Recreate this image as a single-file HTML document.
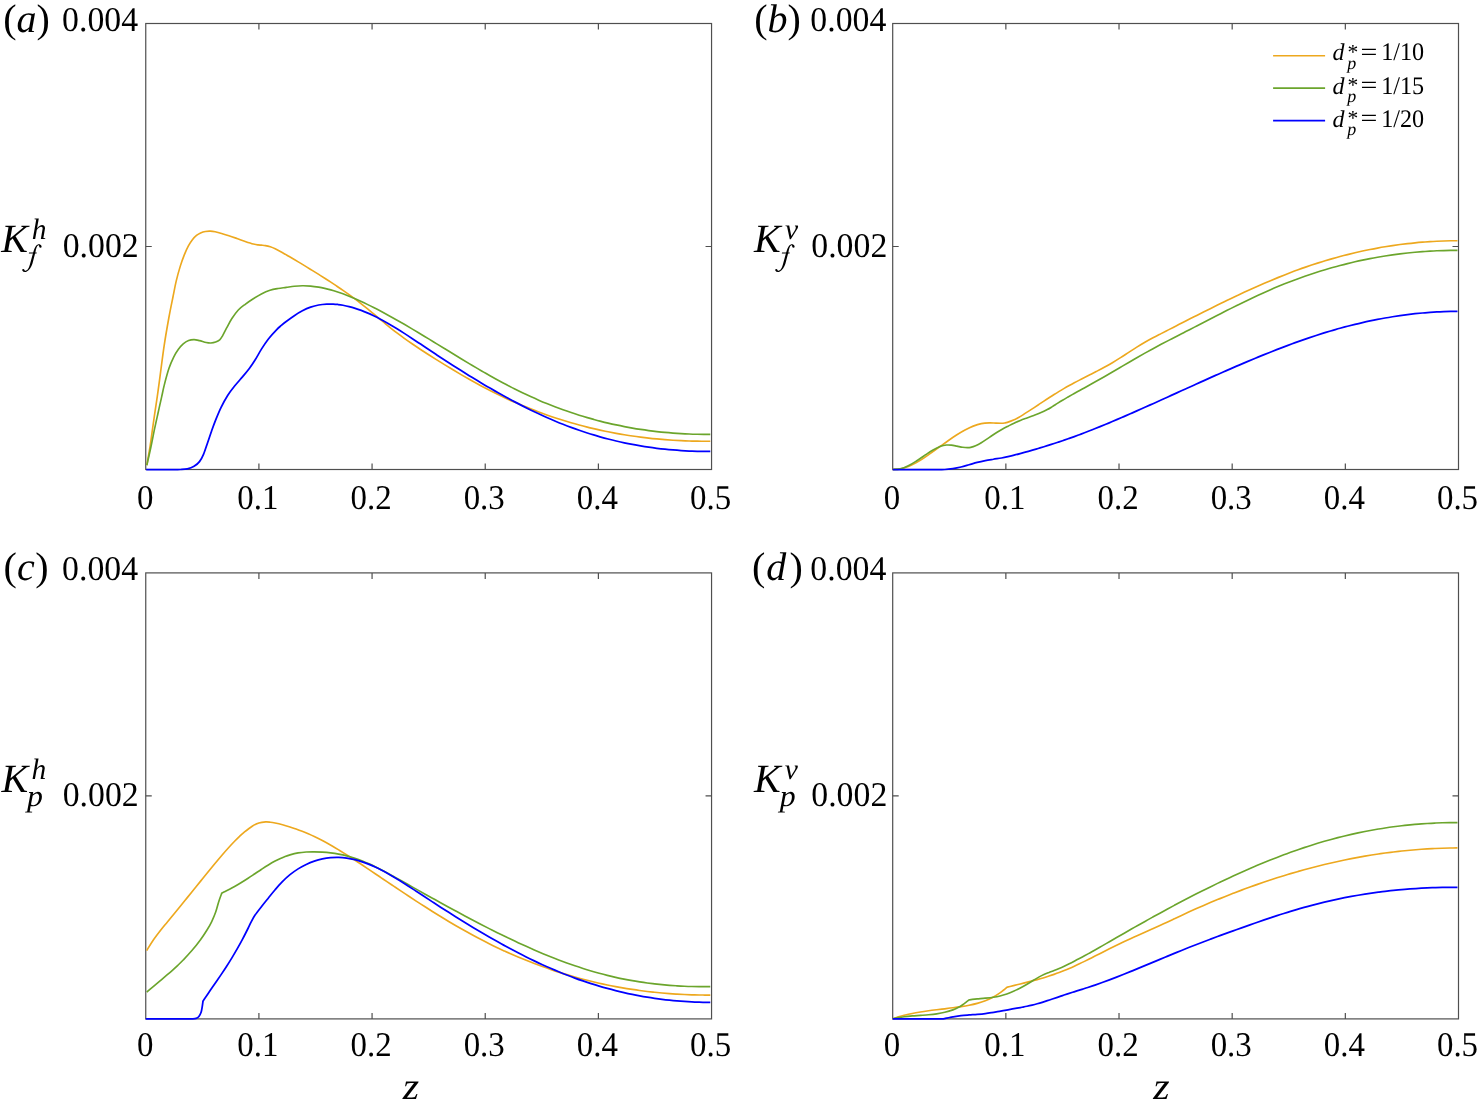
<!DOCTYPE html>
<html lang="en">
<head>
<meta charset="utf-8">
<title>Figure: K profiles versus z</title>
<style>
html,body{margin:0;padding:0;background:#fff;}
body{width:1480px;height:1111px;overflow:hidden;font-family:"Liberation Serif",serif;}
svg{display:block;will-change:transform;}
svg text{font-family:"Liberation Serif",serif;fill:#000;text-rendering:geometricPrecision;}
</style>
</head>
<body>
<svg width="1480" height="1111" viewBox="0 0 1480 1111">
<rect x="0" y="0" width="1480" height="1111" fill="#ffffff"/>

<g id="axes">
<rect x="145.75" y="23.5" width="565.8" height="446" fill="none" stroke="#4f4f4f" stroke-width="1.2"/>
<path d="M258.91 469.5v-6.0M258.91 23.5v6.0M372.07 469.5v-6.0M372.07 23.5v6.0M485.23 469.5v-6.0M485.23 23.5v6.0M598.39 469.5v-6.0M598.39 23.5v6.0M145.75 246.5h6.0M711.55 246.5h-6.0" fill="none" stroke="#4f4f4f" stroke-width="1.2"/>
<rect x="892.7" y="23.5" width="565.8" height="446" fill="none" stroke="#4f4f4f" stroke-width="1.2"/>
<path d="M1005.86 469.5v-6.0M1005.86 23.5v6.0M1119.02 469.5v-6.0M1119.02 23.5v6.0M1232.18 469.5v-6.0M1232.18 23.5v6.0M1345.34 469.5v-6.0M1345.34 23.5v6.0M892.7 246.5h6.0M1458.5 246.5h-6.0" fill="none" stroke="#4f4f4f" stroke-width="1.2"/>
<rect x="145.75" y="572.9" width="565.8" height="446" fill="none" stroke="#4f4f4f" stroke-width="1.2"/>
<path d="M258.91 1018.9v-6.0M258.91 572.9v6.0M372.07 1018.9v-6.0M372.07 572.9v6.0M485.23 1018.9v-6.0M485.23 572.9v6.0M598.39 1018.9v-6.0M598.39 572.9v6.0M145.75 795.9h6.0M711.55 795.9h-6.0" fill="none" stroke="#4f4f4f" stroke-width="1.2"/>
<rect x="892.7" y="572.9" width="565.8" height="446" fill="none" stroke="#4f4f4f" stroke-width="1.2"/>
<path d="M1005.86 1018.9v-6.0M1005.86 572.9v6.0M1119.02 1018.9v-6.0M1119.02 572.9v6.0M1232.18 1018.9v-6.0M1232.18 572.9v6.0M1345.34 1018.9v-6.0M1345.34 572.9v6.0M892.7 795.9h6.0M1458.5 795.9h-6.0" fill="none" stroke="#4f4f4f" stroke-width="1.2"/>
</g>
<g id="curves">
<path d="M146.84 465.2C147.4 461.95 149.17 452.29 150.2 445.67C151.23 439.06 152.18 431.26 153 425.52C153.82 419.78 154.38 416.09 155.1 411.23C155.82 406.37 156.57 401.5 157.3 396.34C158.03 391.19 158.35 388.81 159.5 380.31C160.65 371.81 162.63 355.8 164.2 345.34C165.77 334.87 167.43 325.62 168.9 317.52C170.37 309.43 171.78 302.83 173 296.77C174.22 290.7 174.98 286.24 176.2 281.13C177.42 276.03 178.95 270.51 180.3 266.13C181.65 261.75 182.95 258.22 184.3 254.84C185.65 251.47 187.05 248.4 188.4 245.87C189.75 243.34 191.05 241.39 192.4 239.66C193.75 237.93 195.13 236.6 196.5 235.48C197.87 234.36 199.12 233.62 200.6 232.95C202.08 232.28 203.78 231.75 205.4 231.46C207.02 231.16 208.67 231.11 210.3 231.16C211.93 231.22 213.32 231.41 215.2 231.79C217.08 232.17 219.32 232.77 221.6 233.43C223.88 234.09 226.33 234.89 228.9 235.74C231.47 236.59 234.28 237.58 237 238.53C239.72 239.48 242.48 240.52 245.2 241.43C247.92 242.34 251.15 243.41 253.3 243.99C255.45 244.57 256.75 244.72 258.1 244.92C259.45 245.12 260.18 245.08 261.4 245.19C262.62 245.3 263.92 245.31 265.4 245.58C266.88 245.85 268.67 246.28 270.3 246.83C271.93 247.37 273.22 247.9 275.2 248.85C277.18 249.8 280.02 251.34 282.2 252.53C284.38 253.71 286.23 254.8 288.25 255.96C290.27 257.13 292.28 258.31 294.3 259.51C296.32 260.71 298.37 261.94 300.4 263.16C302.43 264.39 304.47 265.63 306.5 266.88C308.53 268.12 310.57 269.37 312.6 270.62C314.63 271.88 316.68 273.15 318.7 274.42C320.72 275.69 322.73 276.96 324.75 278.25C326.77 279.54 328.78 280.83 330.8 282.16C332.82 283.49 334.87 284.84 336.9 286.21C338.93 287.58 340.97 288.97 343 290.39C345.03 291.8 347.07 293.24 349.1 294.7C351.13 296.17 353.18 297.67 355.2 299.18C357.22 300.7 359.23 302.23 361.25 303.8C363.27 305.37 365.28 306.97 367.3 308.61C369.32 310.26 371.37 311.96 373.4 313.66C375.43 315.35 377.52 317.14 379.5 318.79C381.48 320.45 383.33 322.03 385.25 323.61C387.17 325.19 388.93 326.66 391 328.3C393.07 329.94 395.43 331.78 397.65 333.45C399.87 335.12 401.84 336.58 404.3 338.34C406.76 340.1 409.72 342.16 412.43 344.01C415.14 345.86 417.86 347.66 420.57 349.44C423.28 351.22 425.99 352.97 428.7 354.7C431.41 356.43 434.1 358.14 436.8 359.84C439.5 361.54 442.2 363.22 444.9 364.88C447.6 366.54 450.3 368.19 453 369.81C455.7 371.44 458.4 373.04 461.1 374.62C463.8 376.2 466.5 377.75 469.2 379.28C471.9 380.81 474.89 382.47 477.3 383.79C479.71 385.11 481.53 386.08 483.65 387.2C485.77 388.32 487.59 389.28 490 390.5C492.41 391.73 495.4 393.23 498.1 394.55C500.8 395.86 503.5 397.15 506.2 398.4C508.9 399.65 511.59 400.87 514.3 402.06C517.01 403.25 519.72 404.42 522.43 405.55C525.14 406.69 527.86 407.79 530.57 408.86C533.28 409.94 535.99 410.98 538.7 411.99C541.41 413 544.1 413.98 546.8 414.93C549.5 415.88 552.2 416.81 554.9 417.7C557.6 418.59 560.3 419.46 563 420.3C565.7 421.13 568.4 421.94 571.1 422.72C573.8 423.51 576.5 424.26 579.2 424.99C581.9 425.72 584.89 426.49 587.3 427.09C589.71 427.7 591.53 428.13 593.65 428.63C595.77 429.13 597.59 429.55 600 430.07C602.41 430.6 605.4 431.23 608.1 431.78C610.8 432.32 613.5 432.83 616.2 433.33C618.9 433.82 621.59 434.29 624.3 434.73C627.01 435.17 629.72 435.6 632.43 435.99C635.14 436.39 637.86 436.76 640.57 437.11C643.28 437.46 645.99 437.79 648.7 438.09C651.41 438.4 654.1 438.67 656.8 438.93C659.5 439.19 662.2 439.42 664.9 439.64C667.6 439.85 670.3 440.04 673 440.21C675.7 440.38 678.4 440.53 681.1 440.66C683.8 440.79 686.5 440.9 689.2 440.98C691.9 441.07 694.87 441.14 697.3 441.19C699.73 441.23 701.63 441.25 703.8 441.26C705.97 441.27 709.22 441.26 710.3 441.26" fill="none" stroke="#EDA81E" stroke-width="1.65" stroke-linejoin="round" stroke-linecap="butt"/>
<path d="M146.84 465.2C147.5 462.25 149.54 453.45 150.8 447.53C152.06 441.6 153.2 435.37 154.4 429.66C155.6 423.94 156.8 418.64 158 413.23C159.2 407.82 160.57 401.83 161.6 397.18C162.63 392.54 162.98 390.11 164.2 385.34C165.42 380.57 167.32 373.27 168.9 368.57C170.48 363.88 172.12 360.4 173.7 357.19C175.28 353.99 176.82 351.55 178.4 349.34C179.98 347.13 181.5 345.39 183.2 343.92C184.9 342.46 186.79 341.28 188.6 340.57C190.41 339.86 192.23 339.66 194.05 339.68C195.87 339.69 197.47 340.18 199.5 340.66C201.53 341.14 204.3 342.17 206.2 342.56C208.1 342.96 209.32 343.11 210.9 343.03C212.48 342.95 214.23 342.6 215.7 342.07C217.17 341.54 218.58 340.87 219.7 339.87C220.82 338.87 221.27 338.03 222.4 336.09C223.53 334.15 224.92 331.14 226.5 328.22C228.08 325.3 229.93 321.59 231.9 318.55C233.87 315.52 236.08 312.38 238.3 310C240.52 307.63 242.7 306.17 245.2 304.3C247.7 302.42 250.6 300.47 253.3 298.75C256 297.03 258.62 295.36 261.4 293.95C264.18 292.54 267.22 291.21 270 290.3C272.78 289.39 275.4 288.98 278.1 288.5C280.8 288.02 283.5 287.78 286.2 287.41C288.9 287.04 291.6 286.56 294.3 286.29C297 286.02 299.68 285.83 302.4 285.8C305.12 285.77 307.88 285.88 310.6 286.1C313.32 286.33 316.34 286.76 318.7 287.13C321.06 287.5 322.73 287.87 324.75 288.33C326.77 288.78 328.78 289.29 330.8 289.85C332.82 290.41 334.87 291.03 336.9 291.69C338.93 292.35 340.97 293.06 343 293.81C345.03 294.56 347.07 295.35 349.1 296.17C351.13 296.99 353.18 297.86 355.2 298.75C357.22 299.63 359.23 300.55 361.25 301.49C363.27 302.42 365.23 303.36 367.3 304.37C369.37 305.38 371.53 306.46 373.65 307.54C375.77 308.61 377.59 309.55 380 310.82C382.41 312.1 385.4 313.7 388.1 315.18C390.8 316.65 393.5 318.16 396.2 319.68C398.9 321.21 401.59 322.76 404.3 324.33C407.01 325.9 409.72 327.5 412.43 329.1C415.14 330.71 417.86 332.33 420.57 333.96C423.28 335.6 425.99 337.25 428.7 338.89C431.41 340.54 434.1 342.19 436.8 343.84C439.5 345.49 442.2 347.15 444.9 348.81C447.6 350.46 450.3 352.12 453 353.77C455.7 355.42 458.4 357.07 461.1 358.7C463.8 360.34 466.5 361.97 469.2 363.59C471.9 365.2 474.89 366.98 477.3 368.4C479.71 369.81 481.53 370.88 483.65 372.1C485.77 373.32 487.59 374.37 490 375.73C492.41 377.09 495.4 378.77 498.1 380.24C500.8 381.72 503.5 383.18 506.2 384.6C508.9 386.02 511.59 387.41 514.3 388.78C517.01 390.14 519.72 391.47 522.43 392.77C525.14 394.07 527.86 395.33 530.57 396.56C533.28 397.79 535.99 398.99 538.7 400.15C541.41 401.32 544.1 402.44 546.8 403.54C549.5 404.63 552.2 405.69 554.9 406.73C557.6 407.76 560.3 408.76 563 409.73C565.7 410.7 568.4 411.63 571.1 412.54C573.8 413.45 576.5 414.32 579.2 415.17C581.9 416.02 584.89 416.91 587.3 417.62C589.71 418.33 591.53 418.83 593.65 419.41C595.77 419.99 597.59 420.49 600 421.1C602.41 421.71 605.4 422.46 608.1 423.09C610.8 423.73 613.5 424.34 616.2 424.92C618.9 425.5 621.59 426.05 624.3 426.57C627.01 427.1 629.72 427.6 632.43 428.07C635.14 428.54 637.86 428.98 640.57 429.4C643.28 429.81 645.99 430.2 648.7 430.56C651.41 430.92 654.1 431.26 656.8 431.57C659.5 431.87 662.2 432.16 664.9 432.41C667.6 432.67 670.3 432.9 673 433.11C675.7 433.32 678.4 433.5 681.1 433.65C683.8 433.81 686.5 433.94 689.2 434.05C691.9 434.16 694.87 434.24 697.3 434.3C699.73 434.36 701.63 434.39 703.8 434.4C705.97 434.42 709.22 434.41 710.3 434.41" fill="none" stroke="#6BA52C" stroke-width="1.65" stroke-linejoin="round" stroke-linecap="butt"/>
<path d="M146.2 469.5C147.63 469.5 151.92 469.5 154.77 469.5C157.63 469.5 160.49 469.5 163.35 469.5C166.21 469.5 169.07 469.5 171.93 469.5C174.78 469.5 177.94 469.6 180.5 469.5C183.06 469.4 185.04 469.42 187.3 468.9C189.56 468.38 192.02 467.56 194.05 466.36C196.08 465.15 197.93 463.66 199.5 461.66C201.07 459.66 202.15 457.52 203.5 454.36C204.85 451.2 206.25 446.6 207.6 442.7C208.95 438.8 210.25 434.77 211.6 430.97C212.95 427.18 214.12 423.85 215.7 419.9C217.28 415.96 219.08 411.4 221.1 407.3C223.12 403.19 225.55 398.82 227.8 395.27C230.05 391.72 232.12 389.12 234.6 386.01C237.08 382.9 240.22 379.57 242.7 376.61C245.18 373.65 247.47 370.96 249.5 368.24C251.53 365.52 252.88 363.52 254.9 360.3C256.92 357.07 259.35 352.44 261.6 348.89C263.85 345.34 265.92 342.14 268.4 338.97C270.88 335.8 274.34 332.12 276.5 329.87C278.66 327.61 279.73 326.83 281.35 325.43C282.97 324.04 284.04 323.13 286.2 321.5C288.36 319.87 291.6 317.43 294.3 315.65C297 313.87 299.68 312.23 302.4 310.82C305.12 309.41 307.88 308.16 310.6 307.19C313.32 306.22 316 305.52 318.7 305C321.4 304.49 324.37 304.25 326.8 304.1C329.23 303.95 331.41 304.03 333.3 304.1C335.19 304.17 336.53 304.34 338.15 304.53C339.77 304.72 341.18 304.91 343 305.25C344.82 305.59 347.07 306.06 349.1 306.57C351.13 307.08 353.18 307.66 355.2 308.3C357.22 308.94 359.23 309.65 361.25 310.41C363.27 311.17 365.23 311.97 367.3 312.86C369.37 313.75 371.53 314.75 373.65 315.77C375.77 316.79 377.59 317.7 380 318.98C382.41 320.26 385.4 321.9 388.1 323.45C390.8 325.01 393.5 326.63 396.2 328.28C398.9 329.94 401.59 331.65 404.3 333.38C407.01 335.11 409.72 336.9 412.43 338.69C415.14 340.47 417.86 342.29 420.57 344.1C423.28 345.91 425.99 347.74 428.7 349.54C431.41 351.34 434.1 353.13 436.8 354.91C439.5 356.69 442.2 358.46 444.9 360.21C447.6 361.97 450.3 363.71 453 365.44C455.7 367.17 458.4 368.89 461.1 370.59C463.8 372.29 466.5 373.97 469.2 375.64C471.9 377.3 474.89 379.13 477.3 380.58C479.71 382.04 481.53 383.13 483.65 384.38C485.77 385.64 487.59 386.72 490 388.11C492.41 389.51 495.4 391.23 498.1 392.75C500.8 394.28 503.5 395.78 506.2 397.26C508.9 398.74 511.59 400.19 514.3 401.62C517.01 403.05 519.72 404.47 522.43 405.85C525.14 407.23 527.86 408.58 530.57 409.91C533.28 411.23 535.99 412.53 538.7 413.8C541.41 415.06 544.1 416.29 546.8 417.49C549.5 418.69 552.2 419.86 554.9 420.99C557.6 422.13 560.3 423.23 563 424.3C565.7 425.36 568.4 426.4 571.1 427.4C573.8 428.39 576.5 429.36 579.2 430.29C581.9 431.22 584.89 432.2 587.3 432.98C589.71 433.76 591.53 434.32 593.65 434.95C595.77 435.59 597.59 436.13 600 436.81C602.41 437.48 605.4 438.3 608.1 439C610.8 439.69 613.5 440.36 616.2 441C618.9 441.63 621.59 442.24 624.3 442.81C627.01 443.39 629.72 443.93 632.43 444.45C635.14 444.96 637.86 445.45 640.57 445.9C643.28 446.36 645.99 446.79 648.7 447.18C651.41 447.58 654.1 447.94 656.8 448.28C659.5 448.62 662.2 448.93 664.9 449.21C667.6 449.49 670.3 449.74 673 449.97C675.7 450.2 678.4 450.4 681.1 450.57C683.8 450.74 686.5 450.89 689.2 451.01C691.9 451.12 694.87 451.22 697.3 451.29C699.73 451.35 701.63 451.38 703.8 451.4C705.97 451.42 709.22 451.41 710.3 451.41" fill="none" stroke="#0000FF" stroke-width="1.75" stroke-linejoin="round" stroke-linecap="butt"/>
<path d="M892.7 469.5C893.95 469.41 897.6 469.46 900.2 468.97C902.8 468.48 905.6 467.61 908.3 466.56C911 465.5 913.7 464.12 916.4 462.63C919.1 461.14 921.8 459.4 924.5 457.61C927.2 455.83 929.9 453.86 932.6 451.93C935.3 449.99 938 447.95 940.7 445.99C943.4 444.04 946.1 442.06 948.8 440.2C951.5 438.33 954.2 436.5 956.9 434.8C959.6 433.1 962.28 431.48 965 430.03C967.72 428.58 970.48 427.18 973.2 426.11C975.92 425.04 978.6 424.15 981.3 423.6C984 423.05 986.97 422.89 989.4 422.81C991.83 422.73 993.88 423.05 995.9 423.12C997.92 423.2 1000.03 423.29 1001.5 423.26C1002.97 423.23 1003.72 423.11 1004.7 422.96C1005.68 422.82 1005.93 422.86 1007.4 422.39C1008.87 421.91 1011.64 420.93 1013.5 420.11C1015.36 419.29 1016.87 418.41 1018.55 417.46C1020.23 416.52 1021.91 415.47 1023.6 414.42C1025.29 413.37 1027 412.27 1028.7 411.17C1030.4 410.07 1032.11 408.94 1033.8 407.82C1035.49 406.7 1037.17 405.58 1038.85 404.46C1040.53 403.34 1042.21 402.22 1043.9 401.1C1045.59 399.98 1047.3 398.85 1049 397.75C1050.7 396.65 1052.41 395.55 1054.1 394.49C1055.79 393.43 1057.47 392.4 1059.15 391.38C1060.83 390.37 1062.52 389.38 1064.2 388.4C1065.88 387.43 1067.57 386.48 1069.25 385.54C1070.93 384.61 1072.61 383.7 1074.3 382.8C1075.99 381.89 1077.7 381 1079.4 380.12C1081.1 379.24 1082.67 378.44 1084.5 377.51C1086.33 376.59 1088.4 375.54 1090.35 374.55C1092.3 373.56 1093.88 372.78 1096.2 371.57C1098.53 370.36 1101.6 368.77 1104.3 367.29C1107 365.81 1109.69 364.29 1112.4 362.68C1115.11 361.08 1117.83 359.36 1120.55 357.64C1123.27 355.92 1125.99 354.12 1128.7 352.37C1131.41 350.63 1134.1 348.85 1136.8 347.17C1139.5 345.48 1142.2 343.82 1144.9 342.25C1147.6 340.69 1150.3 339.24 1153 337.8C1155.7 336.36 1158.53 334.93 1161.1 333.61C1163.67 332.29 1165.98 331.11 1168.4 329.87C1170.82 328.63 1173.2 327.41 1175.6 326.18C1178 324.95 1180.4 323.73 1182.8 322.5C1185.2 321.28 1187.67 320.01 1190 318.83C1192.33 317.65 1194.5 316.55 1196.75 315.41C1199 314.27 1201.25 313.14 1203.5 312.01C1205.75 310.88 1208 309.76 1210.25 308.64C1212.5 307.52 1214.75 306.41 1217 305.3C1219.25 304.19 1221.52 303.09 1223.78 301.99C1226.03 300.89 1228.29 299.8 1230.55 298.72C1232.81 297.64 1235.07 296.57 1237.32 295.51C1239.58 294.44 1241.85 293.39 1244.1 292.35C1246.35 291.3 1248.6 290.28 1250.85 289.26C1253.1 288.24 1255.35 287.23 1257.6 286.24C1259.85 285.24 1262.1 284.26 1264.35 283.28C1266.6 282.31 1268.85 281.36 1271.1 280.41C1273.35 279.47 1275.6 278.54 1277.85 277.62C1280.1 276.7 1282.35 275.8 1284.6 274.92C1286.85 274.03 1289.1 273.16 1291.35 272.31C1293.6 271.45 1295.85 270.62 1298.1 269.8C1300.35 268.98 1302.6 268.17 1304.85 267.39C1307.1 266.6 1309.35 265.83 1311.6 265.08C1313.85 264.33 1316.1 263.6 1318.35 262.88C1320.6 262.17 1322.73 261.5 1325.1 260.79C1327.47 260.07 1330.07 259.31 1332.55 258.6C1335.03 257.89 1337.51 257.2 1340 256.53C1342.49 255.86 1345 255.21 1347.5 254.58C1350 253.95 1352.5 253.35 1355 252.76C1357.5 252.18 1360 251.61 1362.5 251.07C1365 250.52 1367.5 250 1370 249.5C1372.5 249 1375 248.52 1377.5 248.07C1380 247.61 1382.5 247.17 1385 246.76C1387.5 246.35 1390 245.95 1392.5 245.58C1395 245.21 1397.5 244.86 1400 244.53C1402.5 244.2 1405 243.9 1407.5 243.61C1410 243.32 1412.5 243.06 1415 242.82C1417.5 242.57 1420 242.35 1422.5 242.15C1425 241.95 1427.6 241.77 1430 241.62C1432.4 241.46 1434.58 241.35 1436.88 241.24C1439.17 241.13 1441.46 241.04 1443.75 240.97C1446.04 240.89 1448.33 240.84 1450.62 240.8C1452.92 240.77 1456.35 240.76 1457.5 240.75" fill="none" stroke="#EDA81E" stroke-width="1.65" stroke-linejoin="round" stroke-linecap="butt"/>
<path d="M892.7 469.5C893.95 469.4 897.6 469.5 900.2 468.88C902.8 468.26 905.6 467.09 908.3 465.78C911 464.47 913.7 462.73 916.4 461.02C919.1 459.31 921.8 457.32 924.5 455.52C927.2 453.72 929.9 451.77 932.6 450.24C935.3 448.7 938.4 447.19 940.7 446.32C943 445.46 944.63 445.24 946.4 445.05C948.17 444.85 949.55 444.98 951.3 445.16C953.05 445.34 955.02 445.78 956.9 446.13C958.78 446.48 960.83 446.99 962.6 447.24C964.37 447.5 966.15 447.63 967.5 447.65C968.85 447.66 969.35 447.65 970.7 447.34C972.05 447.02 973.83 446.52 975.6 445.75C977.37 444.99 979 444.14 981.3 442.75C983.6 441.35 986.7 439.17 989.4 437.37C992.1 435.57 995.23 433.37 997.5 431.94C999.77 430.51 1001.25 429.75 1003 428.8C1004.75 427.84 1006.25 427.08 1008 426.18C1009.75 425.29 1011.45 424.36 1013.5 423.4C1015.55 422.45 1018.05 421.36 1020.3 420.45C1022.55 419.53 1024.75 418.76 1027 417.93C1029.25 417.1 1031.55 416.32 1033.8 415.48C1036.05 414.63 1038.25 413.83 1040.5 412.85C1042.75 411.87 1045.33 410.62 1047.3 409.58C1049.27 408.54 1050.67 407.63 1052.35 406.6C1054.03 405.57 1055.71 404.46 1057.4 403.4C1059.09 402.35 1060.8 401.29 1062.5 400.27C1064.2 399.24 1065.91 398.24 1067.6 397.25C1069.29 396.27 1070.97 395.31 1072.65 394.36C1074.33 393.41 1076.02 392.47 1077.7 391.54C1079.38 390.61 1081.07 389.68 1082.75 388.76C1084.43 387.83 1085.56 387.23 1087.8 385.99C1090.04 384.75 1093.45 382.88 1096.2 381.34C1098.95 379.79 1101.6 378.28 1104.3 376.72C1107 375.17 1109.69 373.59 1112.4 372.01C1115.11 370.42 1117.83 368.81 1120.55 367.21C1123.27 365.61 1125.99 364 1128.7 362.42C1131.41 360.84 1134.1 359.27 1136.8 357.72C1139.5 356.17 1142.2 354.63 1144.9 353.12C1147.6 351.61 1150.3 350.14 1153 348.67C1155.7 347.21 1158.4 345.78 1161.1 344.35C1163.8 342.93 1166.5 341.53 1169.2 340.13C1171.9 338.73 1174.89 337.19 1177.3 335.95C1179.71 334.72 1181.53 333.79 1183.65 332.7C1185.77 331.62 1187.82 330.57 1190 329.45C1192.18 328.33 1194.5 327.13 1196.75 325.97C1199 324.81 1201.25 323.65 1203.5 322.48C1205.75 321.32 1208 320.16 1210.25 319C1212.5 317.84 1214.75 316.68 1217 315.52C1219.25 314.36 1221.52 313.21 1223.78 312.06C1226.03 310.91 1228.29 309.76 1230.55 308.63C1232.81 307.49 1235.07 306.36 1237.32 305.24C1239.58 304.12 1241.85 303.01 1244.1 301.91C1246.35 300.82 1248.6 299.74 1250.85 298.67C1253.1 297.6 1255.35 296.54 1257.6 295.5C1259.85 294.46 1262.1 293.44 1264.35 292.43C1266.6 291.42 1268.85 290.43 1271.1 289.46C1273.35 288.48 1275.6 287.53 1277.85 286.59C1280.1 285.66 1282.35 284.74 1284.6 283.85C1286.85 282.95 1289.1 282.07 1291.35 281.21C1293.6 280.35 1295.85 279.51 1298.1 278.69C1300.35 277.87 1302.6 277.07 1304.85 276.28C1307.1 275.5 1309.35 274.73 1311.6 273.98C1313.85 273.23 1316.1 272.5 1318.35 271.79C1320.6 271.08 1322.73 270.42 1325.1 269.71C1327.47 269.01 1330.07 268.25 1332.55 267.55C1335.03 266.85 1337.51 266.17 1340 265.51C1342.49 264.85 1345 264.21 1347.5 263.6C1350 262.98 1352.5 262.39 1355 261.82C1357.5 261.24 1360 260.69 1362.5 260.17C1365 259.64 1367.5 259.13 1370 258.65C1372.5 258.16 1375 257.7 1377.5 257.26C1380 256.82 1382.5 256.4 1385 256C1387.5 255.6 1390 255.23 1392.5 254.87C1395 254.52 1397.5 254.18 1400 253.87C1402.5 253.56 1405 253.27 1407.5 253C1410 252.73 1412.5 252.48 1415 252.25C1417.5 252.03 1420 251.82 1422.5 251.63C1425 251.45 1427.6 251.28 1430 251.14C1432.4 251 1434.58 250.89 1436.88 250.8C1439.17 250.7 1441.46 250.62 1443.75 250.56C1446.04 250.5 1448.33 250.45 1450.62 250.42C1452.92 250.39 1456.35 250.4 1457.5 250.39" fill="none" stroke="#6BA52C" stroke-width="1.65" stroke-linejoin="round" stroke-linecap="butt"/>
<path d="M892.7 469.5C894.15 469.5 898.49 469.5 901.38 469.5C904.28 469.5 907.17 469.5 910.07 469.5C912.96 469.5 915.86 469.5 918.75 469.5C921.64 469.5 924.54 469.5 927.43 469.5C930.33 469.5 933.22 469.5 936.12 469.5C939.01 469.5 942 469.65 944.8 469.5C947.6 469.35 950.2 469 952.9 468.59C955.6 468.17 958.3 467.64 961 467C963.7 466.36 966.4 465.51 969.1 464.74C971.8 463.98 974.5 463.11 977.2 462.42C979.9 461.73 982.6 461.15 985.3 460.62C988 460.1 990.7 459.7 993.4 459.26C996.1 458.82 999.07 458.42 1001.5 457.99C1003.93 457.56 1005.91 457.13 1008 456.67C1010.09 456.21 1012.03 455.72 1014.05 455.22C1016.07 454.71 1018.07 454.17 1020.1 453.62C1022.13 453.07 1024.2 452.5 1026.25 451.93C1028.3 451.36 1030.42 450.76 1032.4 450.18C1034.38 449.61 1036.23 449.07 1038.15 448.5C1040.07 447.92 1042.09 447.31 1043.9 446.76C1045.71 446.2 1047.3 445.7 1049 445.16C1050.7 444.63 1052.41 444.08 1054.1 443.53C1055.79 442.98 1057.47 442.43 1059.15 441.86C1060.83 441.3 1062.52 440.73 1064.2 440.15C1065.88 439.57 1067.57 438.99 1069.25 438.39C1070.93 437.8 1072.61 437.2 1074.3 436.58C1075.99 435.97 1077.7 435.34 1079.4 434.7C1081.1 434.07 1082.36 433.6 1084.5 432.78C1086.64 431.95 1089.67 430.78 1092.25 429.76C1094.83 428.74 1097.27 427.77 1100 426.65C1102.73 425.54 1105.77 424.29 1108.65 423.08C1111.53 421.88 1114.78 420.5 1117.3 419.42C1119.82 418.35 1121.63 417.56 1123.8 416.62C1125.97 415.68 1128.13 414.74 1130.3 413.78C1132.47 412.83 1134.37 412 1136.8 410.92C1139.23 409.84 1142.2 408.52 1144.9 407.31C1147.6 406.11 1150.3 404.89 1153 403.68C1155.7 402.46 1158.62 401.14 1161.1 400.02C1163.58 398.9 1165.61 397.98 1167.87 396.95C1170.12 395.93 1172.38 394.9 1174.63 393.88C1176.89 392.85 1179.24 391.79 1181.4 390.8C1183.56 389.82 1185.53 388.93 1187.6 387.99C1189.67 387.05 1191.73 386.11 1193.8 385.18C1195.87 384.24 1197.67 383.42 1200 382.37C1202.33 381.32 1205.17 380.04 1207.75 378.88C1210.33 377.73 1212.92 376.57 1215.5 375.42C1218.08 374.27 1220.67 373.13 1223.25 371.99C1225.83 370.85 1228.35 369.74 1231 368.59C1233.65 367.44 1236.42 366.24 1239.12 365.08C1241.83 363.91 1244.54 362.76 1247.25 361.61C1249.96 360.47 1252.67 359.34 1255.38 358.22C1258.08 357.09 1260.82 355.97 1263.5 354.89C1266.18 353.8 1268.79 352.75 1271.43 351.71C1274.08 350.66 1276.72 349.63 1279.37 348.61C1282.01 347.59 1284.78 346.54 1287.3 345.59C1289.82 344.65 1292.1 343.81 1294.5 342.94C1296.9 342.07 1299.3 341.21 1301.7 340.37C1304.1 339.52 1306.5 338.69 1308.9 337.88C1311.3 337.07 1313.7 336.27 1316.1 335.48C1318.5 334.7 1320.9 333.94 1323.3 333.19C1325.7 332.44 1328.51 331.59 1330.5 330.99C1332.49 330.39 1333.67 330.05 1335.25 329.6C1336.83 329.14 1337.96 328.81 1340 328.25C1342.04 327.69 1345 326.89 1347.5 326.23C1350 325.58 1352.5 324.95 1355 324.34C1357.5 323.72 1360 323.13 1362.5 322.56C1365 321.99 1367.5 321.44 1370 320.92C1372.5 320.39 1375 319.88 1377.5 319.4C1380 318.91 1382.5 318.45 1385 318.01C1387.5 317.56 1390 317.14 1392.5 316.74C1395 316.34 1397.5 315.97 1400 315.61C1402.5 315.26 1405 314.92 1407.5 314.61C1410 314.3 1412.5 314.01 1415 313.74C1417.5 313.47 1420 313.23 1422.5 313C1425 312.78 1427.6 312.58 1430 312.4C1432.4 312.23 1434.58 312.09 1436.88 311.97C1439.17 311.84 1441.46 311.74 1443.75 311.65C1446.04 311.56 1448.33 311.5 1450.62 311.45C1452.92 311.4 1456.35 311.37 1457.5 311.36" fill="none" stroke="#0000FF" stroke-width="1.75" stroke-linejoin="round" stroke-linecap="butt"/>
<path d="M146.7 950.6C147.75 948.92 150.52 944.11 153 940.52C155.48 936.92 159.27 932.05 161.6 929.04C163.93 926.03 164.97 924.92 167 922.46C169.03 919.99 171.5 916.99 173.75 914.25C176 911.5 178.25 908.74 180.5 905.97C182.75 903.2 185.02 900.4 187.28 897.62C189.53 894.83 191.79 892.03 194.05 889.24C196.31 886.45 198.57 883.65 200.82 880.86C203.08 878.07 205.35 875.27 207.6 872.5C209.85 869.73 212.1 866.96 214.35 864.24C216.6 861.52 218.85 858.81 221.1 856.18C223.35 853.55 225.6 850.95 227.85 848.47C230.1 845.98 232.69 843.24 234.6 841.27C236.51 839.29 237.75 838.1 239.32 836.62C240.9 835.13 241.9 834.08 244.05 832.35C246.2 830.61 249.72 827.75 252.2 826.19C254.67 824.63 256.65 823.69 258.9 822.98C261.15 822.27 263.78 822.05 265.7 821.92C267.62 821.79 268.83 822.02 270.4 822.2C271.97 822.37 273.08 822.56 275.1 822.98C277.12 823.4 280.07 824.08 282.55 824.74C285.03 825.4 287.74 826.24 290 826.95C292.26 827.67 294.07 828.3 296.1 829.02C298.13 829.75 300.18 830.52 302.2 831.32C304.22 832.12 306.23 832.95 308.25 833.83C310.27 834.71 312.28 835.62 314.3 836.58C316.32 837.54 318.37 838.55 320.4 839.59C322.43 840.63 324.47 841.72 326.5 842.83C328.53 843.94 330.57 845.09 332.6 846.27C334.63 847.44 336.68 848.66 338.7 849.88C340.72 851.11 342.73 852.35 344.75 853.61C346.77 854.88 348.78 856.16 350.8 857.46C352.82 858.77 354.87 860.1 356.9 861.44C358.93 862.78 360.97 864.14 363 865.5C365.03 866.86 367.07 868.23 369.1 869.6C371.13 870.97 373.18 872.35 375.2 873.72C377.22 875.09 379.23 876.45 381.25 877.81C383.27 879.17 385.23 880.5 387.3 881.89C389.37 883.28 391.53 884.74 393.65 886.16C395.77 887.58 397.59 888.8 400 890.4C402.41 892 405.4 893.99 408.1 895.77C410.8 897.55 413.5 899.32 416.2 901.07C418.9 902.83 421.59 904.57 424.3 906.3C427.01 908.03 429.72 909.75 432.43 911.45C435.14 913.16 437.86 914.84 440.57 916.5C443.28 918.17 445.99 919.82 448.7 921.43C451.41 923.05 454.1 924.64 456.8 926.21C459.5 927.78 462.2 929.32 464.9 930.84C467.6 932.35 470.3 933.84 473 935.3C475.7 936.76 478.4 938.19 481.1 939.59C483.8 941 486.5 942.37 489.2 943.71C491.9 945.06 494.89 946.5 497.3 947.66C499.71 948.81 501.53 949.66 503.65 950.63C505.77 951.6 507.59 952.44 510 953.5C512.41 954.56 515.4 955.87 518.1 957.01C520.8 958.15 523.5 959.26 526.2 960.35C528.9 961.44 531.59 962.49 534.3 963.53C537.01 964.56 539.72 965.57 542.43 966.55C545.14 967.53 547.86 968.48 550.57 969.41C553.28 970.34 555.99 971.24 558.7 972.11C561.41 972.98 564.1 973.82 566.8 974.64C569.5 975.45 572.2 976.24 574.9 977.01C577.6 977.77 580.3 978.51 583 979.22C585.7 979.93 588.4 980.62 591.1 981.28C593.8 981.94 596.5 982.57 599.2 983.18C601.9 983.79 604.56 984.37 607.3 984.94C610.04 985.51 612.86 986.06 615.63 986.59C618.41 987.11 621.19 987.61 623.97 988.09C626.74 988.56 629.67 989.03 632.3 989.43C634.93 989.83 637.26 990.17 639.73 990.5C642.21 990.84 644.69 991.16 647.17 991.46C649.64 991.76 652.12 992.04 654.6 992.3C657.08 992.56 659.56 992.8 662.03 993.02C664.51 993.25 666.99 993.45 669.47 993.64C671.94 993.82 674.42 993.99 676.9 994.14C679.38 994.29 681.86 994.42 684.33 994.53C686.81 994.64 689.29 994.74 691.77 994.81C694.24 994.89 697.04 994.95 699.2 994.99C701.36 995.03 702.9 995.05 704.75 995.06C706.6 995.07 709.38 995.07 710.3 995.07" fill="none" stroke="#EDA81E" stroke-width="1.65" stroke-linejoin="round" stroke-linecap="butt"/>
<path d="M146.7 992.2C147.38 991.6 149.22 989.99 150.8 988.63C152.38 987.27 154.4 985.57 156.2 984.06C158 982.54 159.8 981.05 161.6 979.54C163.4 978.03 165.2 976.52 167 974.98C168.8 973.43 170.6 971.88 172.4 970.27C174.2 968.67 176 967.04 177.8 965.33C179.6 963.63 180.85 962.51 183.2 960.05C185.55 957.59 189.02 953.97 191.9 950.57C194.78 947.18 197.98 943.11 200.5 939.68C203.02 936.25 205.15 932.99 207 930C208.85 927.02 210.15 924.76 211.6 921.77C213.05 918.78 214.46 915.56 215.7 912.04C216.94 908.52 218.03 903.8 219.05 900.64C220.07 897.49 221.34 894.36 221.8 893.1C222.25 892.89 223.21 892.46 224.5 891.82C225.79 891.18 227.87 890.15 229.55 889.26C231.23 888.37 232.63 887.62 234.6 886.49C236.57 885.36 239.1 883.87 241.35 882.49C243.6 881.11 245.85 879.67 248.1 878.21C250.35 876.75 252.6 875.22 254.85 873.72C257.1 872.23 259.35 870.69 261.6 869.23C263.85 867.77 266.1 866.3 268.35 864.94C270.6 863.59 273.18 862.12 275.1 861.09C277.02 860.05 278.27 859.47 279.85 858.74C281.43 858.01 282.91 857.37 284.6 856.73C286.29 856.08 287.75 855.49 290 854.86C292.25 854.22 295.4 853.4 298.1 852.93C300.8 852.46 303.5 852.22 306.2 852.04C308.9 851.87 311.6 851.87 314.3 851.89C317 851.91 319.68 852.01 322.4 852.18C325.12 852.35 327.88 852.58 330.6 852.9C333.32 853.22 336 853.61 338.7 854.1C341.4 854.6 344.1 855.17 346.8 855.85C349.5 856.54 352.2 857.32 354.9 858.21C357.6 859.1 360.63 860.26 363 861.2C365.37 862.13 367.07 862.9 369.1 863.82C371.13 864.73 373.18 865.71 375.2 866.7C377.22 867.69 379.23 868.71 381.25 869.76C383.27 870.81 385.23 871.86 387.3 872.98C389.37 874.1 391.53 875.3 393.65 876.47C395.77 877.65 397.59 878.68 400 880.03C402.41 881.38 405.4 883.06 408.1 884.58C410.8 886.09 413.5 887.61 416.2 889.12C418.9 890.63 421.59 892.14 424.3 893.66C427.01 895.17 429.72 896.68 432.43 898.19C435.14 899.7 437.86 901.2 440.57 902.7C443.28 904.19 445.99 905.69 448.7 907.17C451.41 908.64 454.1 910.11 456.8 911.57C459.5 913.03 462.2 914.49 464.9 915.93C467.6 917.37 470.3 918.8 473 920.23C475.7 921.65 478.4 923.06 481.1 924.45C483.8 925.85 486.5 927.24 489.2 928.61C491.9 929.98 494.89 931.47 497.3 932.67C499.71 933.87 501.53 934.77 503.65 935.8C505.77 936.83 507.59 937.71 510 938.86C512.41 940.01 515.4 941.42 518.1 942.67C520.8 943.93 523.5 945.16 526.2 946.37C528.9 947.59 531.59 948.78 534.3 949.95C537.01 951.13 539.72 952.29 542.43 953.42C545.14 954.55 547.86 955.66 550.57 956.74C553.28 957.82 555.99 958.89 558.7 959.92C561.41 960.95 564.1 961.95 566.8 962.93C569.5 963.9 572.2 964.86 574.9 965.78C577.6 966.7 580.3 967.59 583 968.45C585.7 969.32 588.4 970.15 591.1 970.95C593.8 971.75 596.5 972.53 599.2 973.26C601.9 974 604.56 974.7 607.3 975.38C610.04 976.06 612.86 976.73 615.63 977.35C618.41 977.97 621.19 978.56 623.97 979.11C626.74 979.67 629.67 980.21 632.3 980.67C634.93 981.14 637.26 981.51 639.73 981.9C642.21 982.28 644.69 982.64 647.17 982.97C649.64 983.3 652.12 983.61 654.6 983.9C657.08 984.18 659.56 984.44 662.03 984.68C664.51 984.92 666.99 985.13 669.47 985.33C671.94 985.52 674.42 985.69 676.9 985.84C679.38 985.99 681.86 986.12 684.33 986.22C686.81 986.33 689.29 986.42 691.77 986.48C694.24 986.55 697.04 986.59 699.2 986.62C701.36 986.65 702.9 986.65 704.75 986.65C706.6 986.65 709.38 986.62 710.3 986.62" fill="none" stroke="#6BA52C" stroke-width="1.65" stroke-linejoin="round" stroke-linecap="butt"/>
<path d="M145.75 1018.8C147.03 1018.8 150.88 1018.8 153.44 1018.8C156.01 1018.8 158.57 1018.8 161.13 1018.8C163.7 1018.8 166.26 1018.8 168.82 1018.8C171.39 1018.8 173.95 1018.8 176.52 1018.8C179.08 1018.8 181.64 1018.8 184.21 1018.8C186.77 1018.8 189.9 1018.86 191.9 1018.8C193.9 1018.74 195.03 1018.79 196.2 1018.42C197.37 1018.04 198.08 1017.56 198.9 1016.54C199.72 1015.52 200.55 1013.94 201.1 1012.32C201.65 1010.7 201.88 1008.7 202.2 1006.82C202.52 1004.95 202.87 1002.05 203 1001.1C203.32 1000.62 203.68 1000.04 204.9 998.25C206.12 996.45 208.5 992.95 210.3 990.33C212.1 987.7 213.9 985.13 215.7 982.51C217.5 979.89 219.3 977.29 221.1 974.62C222.9 971.94 224.7 969.26 226.5 966.47C228.3 963.68 230.1 960.84 231.9 957.87C233.7 954.91 235.5 951.86 237.3 948.69C239.1 945.52 240.9 942.27 242.7 938.86C244.5 935.45 246.75 930.95 248.1 928.24C249.45 925.54 249.67 924.78 250.8 922.63C251.93 920.48 253.1 918.02 254.9 915.32C256.7 912.63 259.35 909.35 261.6 906.46C263.85 903.57 266.15 900.76 268.4 897.98C270.65 895.19 272.85 892.38 275.1 889.74C277.35 887.09 279.42 884.63 281.9 882.12C284.38 879.6 287.3 876.87 290 874.67C292.7 872.46 295.4 870.58 298.1 868.88C300.8 867.18 303.5 865.75 306.2 864.46C308.9 863.17 311.6 862.08 314.3 861.16C317 860.23 319.68 859.48 322.4 858.89C325.12 858.3 327.88 857.88 330.6 857.62C333.32 857.37 336 857.29 338.7 857.36C341.4 857.43 344.1 857.67 346.8 858.05C349.5 858.43 352.2 858.98 354.9 859.65C357.6 860.32 360.63 861.29 363 862.08C365.37 862.87 367.07 863.55 369.1 864.38C371.13 865.21 373.18 866.11 375.2 867.05C377.22 867.99 379.23 868.99 381.25 870.02C383.27 871.06 385.23 872.11 387.3 873.26C389.37 874.41 391.53 875.66 393.65 876.91C395.77 878.16 397.59 879.27 400 880.77C402.41 882.27 405.4 884.17 408.1 885.91C410.8 887.65 413.5 889.43 416.2 891.2C418.9 892.98 421.59 894.77 424.3 896.55C427.01 898.33 429.72 900.11 432.43 901.88C435.14 903.65 437.86 905.41 440.57 907.15C443.28 908.9 445.99 910.64 448.7 912.36C451.41 914.08 454.1 915.78 456.8 917.47C459.5 919.16 462.2 920.83 464.9 922.49C467.6 924.15 470.3 925.8 473 927.43C475.7 929.05 478.4 930.67 481.1 932.26C483.8 933.85 486.5 935.43 489.2 936.98C491.9 938.53 494.89 940.23 497.3 941.58C499.71 942.94 501.53 943.95 503.65 945.11C505.77 946.27 507.59 947.26 510 948.55C512.41 949.83 515.4 951.41 518.1 952.81C520.8 954.2 523.5 955.58 526.2 956.92C528.9 958.27 531.59 959.59 534.3 960.88C537.01 962.18 539.72 963.45 542.43 964.69C545.14 965.93 547.86 967.14 550.57 968.32C553.28 969.5 555.99 970.66 558.7 971.77C561.41 972.89 564.1 973.97 566.8 975.02C569.5 976.07 572.2 977.09 574.9 978.08C577.6 979.07 580.3 980.02 583 980.95C585.7 981.87 588.4 982.77 591.1 983.63C593.8 984.49 596.5 985.33 599.2 986.13C601.9 986.93 604.56 987.69 607.3 988.44C610.04 989.19 612.86 989.93 615.63 990.63C618.41 991.33 621.19 991.99 623.97 992.62C626.74 993.26 629.67 993.89 632.3 994.43C634.93 994.97 637.26 995.42 639.73 995.88C642.21 996.34 644.69 996.77 647.17 997.18C649.64 997.59 652.12 997.97 654.6 998.33C657.08 998.69 659.56 999.03 662.03 999.34C664.51 999.65 666.99 999.93 669.47 1000.19C671.94 1000.45 674.42 1000.69 676.9 1000.9C679.38 1001.11 681.86 1001.3 684.33 1001.47C686.81 1001.63 689.29 1001.77 691.77 1001.89C694.24 1002.01 697.04 1002.1 699.2 1002.17C701.36 1002.23 702.9 1002.26 704.75 1002.28C706.6 1002.31 709.38 1002.31 710.3 1002.32" fill="none" stroke="#0000FF" stroke-width="1.75" stroke-linejoin="round" stroke-linecap="butt"/>
<path d="M892.6 1018.8C893.57 1018.48 896.47 1017.49 898.4 1016.9C900.33 1016.32 901.88 1015.87 904.2 1015.29C906.52 1014.72 909.6 1014 912.3 1013.45C915 1012.9 917.69 1012.44 920.4 1011.99C923.11 1011.55 925.83 1011.17 928.55 1010.8C931.27 1010.43 933.99 1010.1 936.7 1009.77C939.41 1009.44 942.1 1009.14 944.8 1008.81C947.5 1008.48 950.2 1008.16 952.9 1007.79C955.6 1007.43 958.3 1007.06 961 1006.63C963.7 1006.2 966.4 1005.75 969.1 1005.2C971.8 1004.66 974.5 1004.1 977.2 1003.36C979.9 1002.62 982.6 1001.82 985.3 1000.76C988 999.71 990.97 998.33 993.4 997.03C995.83 995.72 998.23 994.07 999.9 992.94C1001.57 991.81 1002.25 991.2 1003.4 990.26C1004.55 989.32 1006.23 987.8 1006.8 987.3C1007.35 987.16 1008.42 986.86 1010.1 986.44C1011.78 986.01 1014.65 985.3 1016.9 984.75C1019.15 984.2 1021.35 983.67 1023.6 983.12C1025.85 982.57 1028.13 982.01 1030.4 981.42C1032.67 980.84 1034.95 980.24 1037.2 979.61C1039.45 978.99 1041.93 978.26 1043.9 977.67C1045.87 977.09 1047.3 976.63 1049 976.08C1050.7 975.53 1052.41 974.96 1054.1 974.37C1055.79 973.78 1057.47 973.18 1059.15 972.55C1060.83 971.92 1062.52 971.26 1064.2 970.58C1065.88 969.9 1067.57 969.2 1069.25 968.47C1070.93 967.74 1072.61 966.99 1074.3 966.22C1075.99 965.45 1077.7 964.65 1079.4 963.84C1081.1 963.04 1082.78 962.22 1084.5 961.37C1086.22 960.53 1088 959.64 1089.75 958.76C1091.5 957.89 1092.92 957.16 1095 956.11C1097.08 955.05 1099.8 953.65 1102.2 952.43C1104.6 951.22 1107 949.99 1109.4 948.79C1111.8 947.59 1114.2 946.4 1116.6 945.23C1119 944.07 1121.4 942.94 1123.8 941.81C1126.2 940.69 1128.6 939.6 1131 938.51C1133.4 937.42 1135.79 936.35 1138.2 935.27C1140.61 934.2 1143.02 933.13 1145.43 932.05C1147.84 930.98 1150.26 929.91 1152.67 928.82C1155.08 927.73 1157.49 926.64 1159.9 925.53C1162.31 924.42 1164.7 923.3 1167.1 922.17C1169.5 921.05 1171.9 919.91 1174.3 918.78C1176.7 917.65 1179.1 916.52 1181.5 915.4C1183.9 914.29 1186.3 913.18 1188.7 912.09C1191.1 911 1193.5 909.92 1195.9 908.85C1198.3 907.79 1200.7 906.73 1203.1 905.69C1205.5 904.65 1207.9 903.63 1210.3 902.61C1212.7 901.6 1215.1 900.6 1217.5 899.61C1219.9 898.62 1222.09 897.72 1224.7 896.68C1227.31 895.64 1230.32 894.45 1233.13 893.35C1235.94 892.26 1238.76 891.19 1241.57 890.14C1244.38 889.08 1247.47 887.95 1250 887.03C1252.53 886.11 1254.5 885.41 1256.75 884.62C1259 883.83 1261.25 883.05 1263.5 882.29C1265.75 881.52 1268 880.77 1270.25 880.02C1272.5 879.28 1274.75 878.55 1277 877.83C1279.25 877.11 1281.52 876.4 1283.78 875.71C1286.03 875.01 1288.29 874.33 1290.55 873.66C1292.81 872.98 1295.07 872.33 1297.32 871.68C1299.58 871.03 1301.85 870.4 1304.1 869.78C1306.35 869.16 1308.6 868.55 1310.85 867.96C1313.1 867.37 1315.35 866.78 1317.6 866.22C1319.85 865.65 1322.1 865.09 1324.35 864.55C1326.6 864 1328.85 863.47 1331.1 862.96C1333.35 862.44 1335.6 861.93 1337.85 861.44C1340.1 860.95 1342.35 860.47 1344.6 860.01C1346.85 859.54 1349.1 859.09 1351.35 858.65C1353.6 858.21 1355.85 857.78 1358.1 857.37C1360.35 856.96 1362.6 856.55 1364.85 856.17C1367.1 855.78 1369.35 855.41 1371.6 855.05C1373.85 854.69 1376.1 854.34 1378.35 854.01C1380.6 853.67 1382.59 853.38 1385.1 853.04C1387.61 852.71 1390.63 852.31 1393.4 851.97C1396.17 851.64 1398.93 851.32 1401.7 851.03C1404.47 850.73 1407.18 850.46 1410 850.2C1412.82 849.95 1415.73 849.7 1418.6 849.48C1421.47 849.26 1424.5 849.06 1427.2 848.9C1429.9 848.73 1432.25 848.61 1434.78 848.49C1437.3 848.38 1439.82 848.28 1442.35 848.2C1444.88 848.12 1447.4 848.05 1449.92 848.01C1452.45 847.96 1456.24 847.94 1457.5 847.93" fill="none" stroke="#EDA81E" stroke-width="1.65" stroke-linejoin="round" stroke-linecap="butt"/>
<path d="M892.6 1018.8C893.57 1018.6 896.47 1017.92 898.4 1017.58C900.33 1017.23 901.88 1016.99 904.2 1016.72C906.52 1016.44 909.6 1016.16 912.3 1015.94C915 1015.71 917.69 1015.58 920.4 1015.38C923.11 1015.19 925.83 1015.04 928.55 1014.78C931.27 1014.53 933.99 1014.26 936.7 1013.85C939.41 1013.43 942.1 1012.97 944.8 1012.3C947.5 1011.64 950.6 1010.7 952.9 1009.87C955.2 1009.04 956.98 1008.18 958.6 1007.33C960.22 1006.48 961.38 1005.61 962.6 1004.77C963.82 1003.94 964.82 1003.12 965.9 1002.31C966.98 1001.49 968.57 1000.3 969.1 999.9C969.63 999.82 970.95 999.61 972.3 999.44C973.65 999.28 975.03 999.12 977.2 998.9C979.37 998.69 982.6 998.45 985.3 998.17C988 997.89 990.95 997.59 993.4 997.22C995.85 996.85 997.77 996.49 1000 995.94C1002.23 995.39 1004.55 994.7 1006.8 993.92C1009.05 993.13 1011.25 992.24 1013.5 991.24C1015.75 990.25 1018.05 989.12 1020.3 987.94C1022.55 986.76 1024.75 985.5 1027 984.18C1029.25 982.86 1031.77 981.26 1033.8 980.04C1035.83 978.82 1037.52 977.8 1039.2 976.88C1040.88 975.95 1042.27 975.24 1043.9 974.49C1045.53 973.75 1047.3 973.08 1049 972.41C1050.7 971.75 1052.41 971.18 1054.1 970.52C1055.79 969.85 1057.47 969.16 1059.15 968.43C1060.83 967.7 1062.52 966.93 1064.2 966.14C1065.88 965.36 1067.57 964.55 1069.25 963.72C1070.93 962.9 1072.61 962.05 1074.3 961.19C1075.99 960.33 1077.7 959.44 1079.4 958.54C1081.1 957.64 1082.78 956.75 1084.5 955.81C1086.22 954.87 1088 953.9 1089.75 952.92C1091.5 951.95 1092.92 951.16 1095 949.98C1097.08 948.81 1099.8 947.25 1102.2 945.87C1104.6 944.5 1107 943.1 1109.4 941.72C1111.8 940.33 1114.2 938.94 1116.6 937.55C1119 936.17 1121.4 934.79 1123.8 933.41C1126.2 932.03 1128.6 930.66 1131 929.3C1133.4 927.93 1135.79 926.57 1138.2 925.22C1140.61 923.86 1143.02 922.5 1145.43 921.16C1147.84 919.81 1150.26 918.47 1152.67 917.13C1155.08 915.8 1157.49 914.47 1159.9 913.16C1162.31 911.84 1164.7 910.54 1167.1 909.24C1169.5 907.94 1171.9 906.65 1174.3 905.38C1176.7 904.1 1179.1 902.82 1181.5 901.56C1183.9 900.3 1186.3 899.05 1188.7 897.8C1191.1 896.56 1193.5 895.33 1195.9 894.1C1198.3 892.88 1200.7 891.67 1203.1 890.46C1205.5 889.26 1207.9 888.07 1210.3 886.89C1212.7 885.71 1215.1 884.54 1217.5 883.38C1219.9 882.23 1222.09 881.17 1224.7 879.95C1227.31 878.72 1230.32 877.31 1233.13 876.02C1235.94 874.72 1238.76 873.45 1241.57 872.19C1244.38 870.94 1247.47 869.58 1250 868.48C1252.53 867.38 1254.5 866.54 1256.75 865.59C1259 864.64 1261.25 863.7 1263.5 862.78C1265.75 861.85 1268 860.94 1270.25 860.05C1272.5 859.15 1274.75 858.27 1277 857.4C1279.25 856.53 1281.52 855.67 1283.78 854.82C1286.03 853.98 1288.29 853.15 1290.55 852.34C1292.81 851.52 1295.07 850.72 1297.32 849.94C1299.58 849.16 1301.85 848.39 1304.1 847.64C1306.35 846.89 1308.6 846.15 1310.85 845.44C1313.1 844.72 1315.35 844.02 1317.6 843.33C1319.85 842.65 1322.1 841.98 1324.35 841.33C1326.6 840.68 1328.85 840.05 1331.1 839.43C1333.35 838.82 1335.6 838.22 1337.85 837.64C1340.1 837.06 1342.35 836.49 1344.6 835.95C1346.85 835.4 1349.1 834.87 1351.35 834.36C1353.6 833.85 1355.85 833.36 1358.1 832.88C1360.35 832.4 1362.6 831.94 1364.85 831.5C1367.1 831.06 1369.35 830.63 1371.6 830.22C1373.85 829.81 1376.1 829.42 1378.35 829.04C1380.6 828.67 1382.59 828.34 1385.1 827.97C1387.61 827.59 1390.63 827.15 1393.4 826.78C1396.17 826.41 1398.93 826.06 1401.7 825.74C1404.47 825.42 1407.18 825.13 1410 824.85C1412.82 824.58 1415.73 824.31 1418.6 824.09C1421.47 823.86 1424.5 823.65 1427.2 823.48C1429.9 823.31 1432.25 823.18 1434.78 823.07C1437.3 822.95 1439.82 822.86 1442.35 822.78C1444.88 822.7 1447.4 822.65 1449.92 822.61C1452.45 822.57 1456.24 822.57 1457.5 822.56" fill="none" stroke="#6BA52C" stroke-width="1.65" stroke-linejoin="round" stroke-linecap="butt"/>
<path d="M892.7 1018.9C894.1 1018.9 898.31 1018.9 901.12 1018.9C903.92 1018.9 906.73 1018.9 909.53 1018.9C912.34 1018.9 915.14 1018.9 917.95 1018.9C920.76 1018.9 923.56 1018.9 926.37 1018.9C929.17 1018.9 931.98 1018.9 934.78 1018.9C937.59 1018.9 941.26 1019.02 943.2 1018.9C945.14 1018.78 945.33 1018.4 946.4 1018.16C947.47 1017.93 948.52 1017.7 949.6 1017.49C950.68 1017.27 951 1017.17 952.9 1016.88C954.8 1016.59 958.3 1016.05 961 1015.74C963.7 1015.42 966.4 1015.22 969.1 1014.99C971.8 1014.76 974.5 1014.6 977.2 1014.35C979.9 1014.11 982.87 1013.83 985.3 1013.53C987.73 1013.24 989.77 1012.91 991.8 1012.59C993.83 1012.27 995.6 1011.95 997.5 1011.62C999.4 1011.29 1001.45 1010.93 1003.2 1010.62C1004.95 1010.31 1005.72 1010.18 1008 1009.77C1010.28 1009.37 1014.57 1008.6 1016.9 1008.18C1019.23 1007.76 1020.27 1007.57 1021.95 1007.25C1023.63 1006.92 1025.31 1006.6 1027 1006.24C1028.69 1005.88 1030.4 1005.49 1032.1 1005.08C1033.8 1004.66 1035.51 1004.22 1037.2 1003.76C1038.89 1003.29 1040.57 1002.8 1042.25 1002.29C1043.93 1001.78 1045.62 1001.24 1047.3 1000.7C1048.98 1000.16 1050.67 999.59 1052.35 999.02C1054.03 998.46 1055.71 997.88 1057.4 997.3C1059.09 996.73 1060.8 996.14 1062.5 995.56C1064.2 994.99 1065.91 994.41 1067.6 993.86C1069.29 993.31 1070.97 992.77 1072.65 992.24C1074.33 991.7 1076.02 991.18 1077.7 990.66C1079.38 990.13 1081.07 989.61 1082.75 989.08C1084.43 988.55 1085.76 988.14 1087.8 987.47C1089.84 986.8 1092.6 985.88 1095 985.06C1097.4 984.23 1099.8 983.39 1102.2 982.52C1104.6 981.65 1107 980.77 1109.4 979.87C1111.8 978.97 1114.2 978.05 1116.6 977.12C1119 976.18 1121.4 975.24 1123.8 974.28C1126.2 973.32 1128.6 972.35 1131 971.38C1133.4 970.4 1135.79 969.42 1138.2 968.42C1140.61 967.43 1143.02 966.43 1145.43 965.42C1147.84 964.42 1150.26 963.41 1152.67 962.4C1155.08 961.39 1157.49 960.37 1159.9 959.37C1162.31 958.36 1164.7 957.36 1167.1 956.36C1169.5 955.36 1171.9 954.37 1174.3 953.38C1176.7 952.4 1179.1 951.41 1181.5 950.44C1183.9 949.47 1186.3 948.51 1188.7 947.56C1191.1 946.61 1193.5 945.67 1195.9 944.73C1198.3 943.8 1200.7 942.87 1203.1 941.95C1205.5 941.03 1207.9 940.12 1210.3 939.22C1212.7 938.32 1215.1 937.42 1217.5 936.53C1219.9 935.64 1222.09 934.83 1224.7 933.88C1227.31 932.93 1230.32 931.84 1233.13 930.83C1235.94 929.82 1238.76 928.81 1241.57 927.82C1244.38 926.82 1247.47 925.73 1250 924.84C1252.53 923.95 1254.5 923.27 1256.75 922.49C1259 921.71 1261.25 920.93 1263.5 920.17C1265.75 919.4 1268 918.64 1270.25 917.88C1272.5 917.13 1274.75 916.39 1277 915.65C1279.25 914.91 1281.52 914.18 1283.78 913.47C1286.03 912.75 1288.29 912.05 1290.55 911.36C1292.81 910.67 1295.07 909.99 1297.32 909.32C1299.58 908.66 1301.85 908.01 1304.1 907.38C1306.35 906.74 1308.6 906.13 1310.85 905.53C1313.1 904.93 1315.35 904.35 1317.6 903.79C1319.85 903.22 1322.1 902.67 1324.35 902.13C1326.6 901.6 1328.85 901.08 1331.1 900.57C1333.35 900.07 1335.6 899.58 1337.85 899.11C1340.1 898.63 1342.35 898.18 1344.6 897.73C1346.85 897.29 1349.1 896.86 1351.35 896.45C1353.6 896.04 1355.85 895.64 1358.1 895.25C1360.35 894.87 1362.6 894.5 1364.85 894.15C1367.1 893.79 1369.35 893.45 1371.6 893.13C1373.85 892.8 1376.1 892.49 1378.35 892.19C1380.6 891.9 1382.59 891.64 1385.1 891.35C1387.61 891.05 1390.63 890.71 1393.4 890.42C1396.17 890.13 1398.93 889.86 1401.7 889.61C1404.47 889.36 1407.18 889.14 1410 888.93C1412.82 888.72 1415.73 888.52 1418.6 888.35C1421.47 888.18 1424.5 888.02 1427.2 887.9C1429.9 887.78 1432.25 887.69 1434.78 887.61C1437.3 887.52 1439.82 887.46 1442.35 887.41C1444.88 887.36 1447.4 887.32 1449.92 887.3C1452.45 887.28 1456.24 887.29 1457.5 887.29" fill="none" stroke="#0000FF" stroke-width="1.75" stroke-linejoin="round" stroke-linecap="butt"/>
</g>
<g id="ticklabels">
<text transform="translate(145.15 508.7) scale(0.9471 1)" font-size="34.74" text-anchor="middle">0</text>
<text transform="translate(257.91 508.7) scale(0.9471 1)" font-size="34.74" text-anchor="middle">0.1</text>
<text transform="translate(371.07 508.7) scale(0.9471 1)" font-size="34.74" text-anchor="middle">0.2</text>
<text transform="translate(484.23 508.7) scale(0.9471 1)" font-size="34.74" text-anchor="middle">0.3</text>
<text transform="translate(597.39 508.7) scale(0.9471 1)" font-size="34.74" text-anchor="middle">0.4</text>
<text transform="translate(710.55 508.7) scale(0.9471 1)" font-size="34.74" text-anchor="middle">0.5</text>
<text transform="translate(892.1 508.7) scale(0.9471 1)" font-size="34.74" text-anchor="middle">0</text>
<text transform="translate(1004.86 508.7) scale(0.9471 1)" font-size="34.74" text-anchor="middle">0.1</text>
<text transform="translate(1118.02 508.7) scale(0.9471 1)" font-size="34.74" text-anchor="middle">0.2</text>
<text transform="translate(1231.18 508.7) scale(0.9471 1)" font-size="34.74" text-anchor="middle">0.3</text>
<text transform="translate(1344.34 508.7) scale(0.9471 1)" font-size="34.74" text-anchor="middle">0.4</text>
<text transform="translate(1457.5 508.7) scale(0.9471 1)" font-size="34.74" text-anchor="middle">0.5</text>
<text transform="translate(145.15 1056.2) scale(0.9471 1)" font-size="34.74" text-anchor="middle">0</text>
<text transform="translate(257.91 1056.2) scale(0.9471 1)" font-size="34.74" text-anchor="middle">0.1</text>
<text transform="translate(371.07 1056.2) scale(0.9471 1)" font-size="34.74" text-anchor="middle">0.2</text>
<text transform="translate(484.23 1056.2) scale(0.9471 1)" font-size="34.74" text-anchor="middle">0.3</text>
<text transform="translate(597.39 1056.2) scale(0.9471 1)" font-size="34.74" text-anchor="middle">0.4</text>
<text transform="translate(710.55 1056.2) scale(0.9471 1)" font-size="34.74" text-anchor="middle">0.5</text>
<text transform="translate(892.1 1056.2) scale(0.9471 1)" font-size="34.74" text-anchor="middle">0</text>
<text transform="translate(1004.86 1056.2) scale(0.9471 1)" font-size="34.74" text-anchor="middle">0.1</text>
<text transform="translate(1118.02 1056.2) scale(0.9471 1)" font-size="34.74" text-anchor="middle">0.2</text>
<text transform="translate(1231.18 1056.2) scale(0.9471 1)" font-size="34.74" text-anchor="middle">0.3</text>
<text transform="translate(1344.34 1056.2) scale(0.9471 1)" font-size="34.74" text-anchor="middle">0.4</text>
<text transform="translate(1457.5 1056.2) scale(0.9471 1)" font-size="34.74" text-anchor="middle">0.5</text>
<text transform="translate(138.1 31.3) scale(0.9731 1)" font-size="34.74" text-anchor="end">0.004</text>
<text transform="translate(138.7 256.9) scale(0.9731 1)" font-size="34.74" text-anchor="end">0.002</text>
<text transform="translate(886.4 31.3) scale(0.9731 1)" font-size="34.74" text-anchor="end">0.004</text>
<text transform="translate(887.3 256.9) scale(0.9731 1)" font-size="34.74" text-anchor="end">0.002</text>
<text transform="translate(138.1 580.4) scale(0.9731 1)" font-size="34.74" text-anchor="end">0.004</text>
<text transform="translate(138.7 806) scale(0.9731 1)" font-size="34.74" text-anchor="end">0.002</text>
<text transform="translate(886.4 580.4) scale(0.9731 1)" font-size="34.74" text-anchor="end">0.004</text>
<text transform="translate(887.3 806) scale(0.9731 1)" font-size="34.74" text-anchor="end">0.002</text>
</g>
<g id="panellabels">
<text x="3.2" y="32.2" font-size="40">(</text>
<text x="16.5" y="32.2" font-size="40" font-style="italic">a</text>
<text x="36.5" y="32.2" font-size="40">)</text>
<text x="754.2" y="32.2" font-size="40">(</text>
<text x="767.5" y="32.2" font-size="40" font-style="italic">b</text>
<text x="787.5" y="32.2" font-size="40">)</text>
<text x="3.5" y="580.2" font-size="40">(</text>
<text x="17" y="580.2" font-size="40" font-style="italic">c</text>
<text x="35.2" y="580.2" font-size="40">)</text>
<text x="752" y="580.2" font-size="40">(</text>
<text x="766.2" y="580.2" font-size="40" font-style="italic">d</text>
<text x="789.6" y="580.2" font-size="40">)</text>
</g>
<g id="ylabels">
<text x="1.3" y="252.1" font-size="40" font-style="italic">K</text>
<text x="31.8" y="239.4" font-size="29.5" font-style="italic">h</text>
<g transform="translate(0 0)"><g fill="#000" stroke="none"><path d="M 33.62 251.05 C 34.59 247.52 36.03 245 37.83 244.39 C 39.27 243.92 41 244.57 41.43 246.15 L 39.38 246.8 C 39.2 245.54 38.66 245.07 37.94 245.43 C 36.86 246.26 36.03 248.42 35.53 251.84 L 32.4 263.72 C 31.21 267.4 29.27 270.13 26.85 271.54 C 25.34 272.36 23.36 272.18 22.64 271.1 L 24.44 270.02 C 24.51 270.74 25.16 271.1 26.17 270.6 C 28.11 269.63 29.16 267.14 29.88 264.44 L 33.05 252.92 Z"/><path d="M 29.05 252.42 L 36.75 252.42 L 36.54 253.43 L 28.83 253.43 Z"/><circle cx="40.46" cy="246.66" r="1.12"/><circle cx="23.29" cy="270.06" r="1.12"/></g></g>
<text x="753.9" y="252.1" font-size="40" font-style="italic">K</text>
<text x="785" y="239.4" font-size="29.5" font-style="italic">v</text>
<g transform="translate(753 0)"><g fill="#000" stroke="none"><path d="M 33.62 251.05 C 34.59 247.52 36.03 245 37.83 244.39 C 39.27 243.92 41 244.57 41.43 246.15 L 39.38 246.8 C 39.2 245.54 38.66 245.07 37.94 245.43 C 36.86 246.26 36.03 248.42 35.53 251.84 L 32.4 263.72 C 31.21 267.4 29.27 270.13 26.85 271.54 C 25.34 272.36 23.36 272.18 22.64 271.1 L 24.44 270.02 C 24.51 270.74 25.16 271.1 26.17 270.6 C 28.11 269.63 29.16 267.14 29.88 264.44 L 33.05 252.92 Z"/><path d="M 29.05 252.42 L 36.75 252.42 L 36.54 253.43 L 28.83 253.43 Z"/><circle cx="40.46" cy="246.66" r="1.12"/><circle cx="23.29" cy="270.06" r="1.12"/></g></g>
<text x="1.6" y="791.7" font-size="40" font-style="italic">K</text>
<text x="31.5" y="779" font-size="29.5" font-style="italic">h</text>
<text transform="translate(27.1 805.7) scale(1.0500 1)" font-size="30.3" font-style="italic">p</text>
<text x="753.9" y="791.7" font-size="40" font-style="italic">K</text>
<text x="784.7" y="779" font-size="29.5" font-style="italic">v</text>
<text transform="translate(779.7 805.7) scale(1.0500 1)" font-size="30.3" font-style="italic">p</text>
</g>
<g id="xlabels">
<text transform="translate(402.8 1099) scale(1.1000 1)" font-size="38.2" font-style="italic">z</text>
<text transform="translate(1153.3 1099.2) scale(1.1000 1)" font-size="38.2" font-style="italic">z</text>
</g>
<g id="legend">
<path d="M1273.1 55.7H1325.1" stroke="#EDA81E" stroke-width="1.65" fill="none"/>
<text x="1332.6" y="60.4" font-size="24" font-style="italic">d</text>
<text x="1347.4" y="58.7" font-size="21.5">*</text>
<text x="1347.3" y="68.7" font-size="18" font-style="italic">p</text>
<text transform="translate(1360.4 60.1) scale(1.2200 1)" font-size="24.5">=</text>
<text transform="translate(1381.2 60.4) scale(0.9550 1)" font-size="25.32">1/10</text>
<path d="M1273.1 88.1H1325.1" stroke="#6BA52C" stroke-width="1.65" fill="none"/>
<text x="1332.6" y="93.6" font-size="24" font-style="italic">d</text>
<text x="1347.4" y="91.9" font-size="21.5">*</text>
<text x="1347.3" y="101.9" font-size="18" font-style="italic">p</text>
<text transform="translate(1360.4 93.3) scale(1.2200 1)" font-size="24.5">=</text>
<text transform="translate(1381.2 93.6) scale(0.9550 1)" font-size="25.32">1/15</text>
<path d="M1273.1 120.6H1325.1" stroke="#0000FF" stroke-width="1.75" fill="none"/>
<text x="1332.6" y="126.6" font-size="24" font-style="italic">d</text>
<text x="1347.4" y="124.9" font-size="21.5">*</text>
<text x="1347.3" y="134.9" font-size="18" font-style="italic">p</text>
<text transform="translate(1360.4 126.3) scale(1.2200 1)" font-size="24.5">=</text>
<text transform="translate(1381.2 126.6) scale(0.9550 1)" font-size="25.32">1/20</text>
</g>
</svg>
</body>
</html>
